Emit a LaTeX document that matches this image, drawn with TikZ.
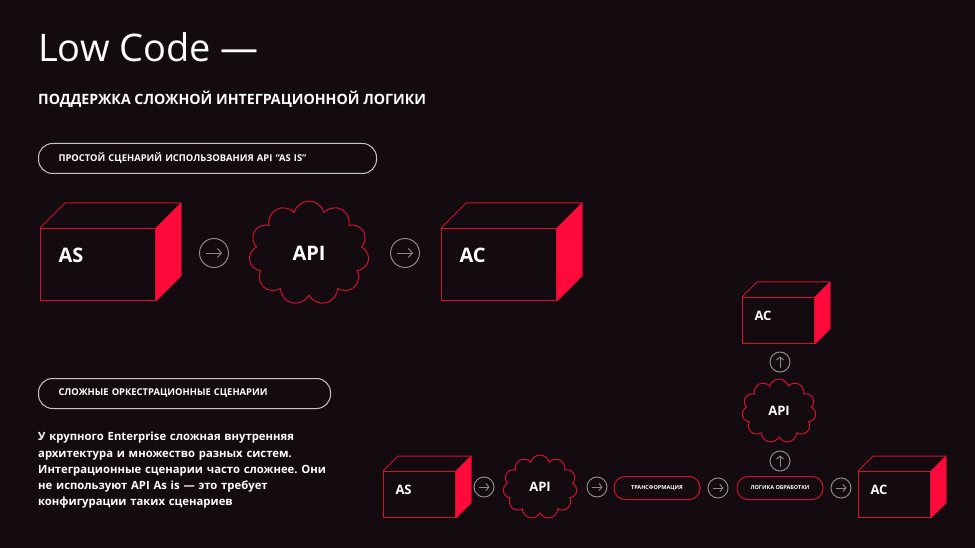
\documentclass[tikz,border=0pt]{standalone}
\usepackage{fontspec}
\setmainfont{Open Sans}
\usetikzlibrary{positioning,shapes.symbols,arrows.meta}
\definecolor{bg}{HTML}{130B10}
\definecolor{boxred}{HTML}{D01230}
\definecolor{facered}{HTML}{FF0A3A}
\definecolor{btngray}{HTML}{8A8A8A}
\definecolor{pillgray}{HTML}{C4C4C4}
\frenchspacing

\begin{document}
\begin{tikzpicture}
[x=1pt, y=-1pt, every node/.style={text=white},
boxbig/.style={draw=boxred, line width=1pt, fill=bg, anchor=north west, minimum height=72pt, text width=79pt, text depth=18pt, inner xsep=18pt, align=left, font=\bfseries\fontsize{20}{24}\selectfont},
boxsmall/.style={draw=boxred, line width=1pt, fill=bg, anchor=north west, minimum height=46pt, text width=48pt, text depth=9pt, inner xsep=12pt, align=left, font=\bfseries\fontsize{13}{16}\selectfont},
apicloud/.style={cloud, cloud puffs=11, cloud ignores aspect, draw=boxred, line width=1pt},
pill/.style={draw=pillgray, line width=1pt, rounded corners=14pt, anchor=north west, minimum height=30pt, inner xsep=20pt, align=left, font=\bfseries\fontsize{9.4}{11}\selectfont},
steppill/.style={draw=boxred, line width=1pt, rounded corners=11pt, minimum width=86pt, minimum height=23pt, inner sep=0pt, font=\bfseries\fontsize{5.5}{7}\selectfont},
nextbig/.style={circle, draw=btngray, line width=1pt, minimum size=29pt, inner sep=0pt,
  path picture={\draw[btngray, line width=0.9pt, -{Straight Barb[length=4pt,width=9pt]}] ([xshift=-8pt]path picture bounding box.center) -- ([xshift=8pt]path picture bounding box.center);}},
nextsmall/.style={circle, draw=btngray, line width=1pt, minimum size=20pt, inner sep=0pt,
  path picture={\draw[btngray, line width=0.9pt, -{Straight Barb[length=3pt,width=7pt]}] ([xshift=-5.5pt]path picture bounding box.center) -- ([xshift=5.5pt]path picture bounding box.center);}},
upsmall/.style={circle, draw=btngray, line width=1pt, minimum size=20pt, inner sep=0pt,
  path picture={\draw[btngray, line width=0.9pt, -{Straight Barb[length=3pt,width=7pt]}] ([yshift=-5.5pt]path picture bounding box.center) -- ([yshift=5.5pt]path picture bounding box.center);}}
]

\useasboundingbox[fill=bg] (0,0) rectangle (975,548);

% header
\node[anchor=base west, inner sep=0pt, font=\fontsize{38}{46}\selectfont] (title) at (38,62) {Low Code —};
\node[anchor=base west, inner sep=0pt, font=\bfseries\fontsize{14.2}{17}\selectfont] (subtitle) at (38,105) {ПОДДЕРЖКА СЛОЖНОЙ ИНТЕГРАЦИОННОЙ ЛОГИКИ};

% simple scenario
\node[pill, text width=298pt] (simple) at (38,143) {ПРОСТОЙ СЦЕНАРИЙ ИСПОЛЬЗОВАНИЯ API “AS IS”};

\node[boxbig] (as1) at (40,228) {AS};
\node[nextbig] (n1) at (214,253) {};
\node[apicloud, minimum width=120pt, minimum height=104pt, font=\bfseries\fontsize{20}{24}\selectfont] (api1) at (309,253) {API};
\node[nextbig] (n2) at (405,253) {};
\node[boxbig] (ac1) at (441,228) {AC};

% orchestration
\node[pill, text width=252pt] (orch) at (38,378) {СЛОЖНЫЕ ОРКЕСТРАЦИОННЫЕ СЦЕНАРИИ};

\node[anchor=north west, inner sep=0pt, text width=300pt, align=left, font=\bfseries\fontsize{11.3}{16.3}\selectfont] (descr) at (38,432)
{У крупного Enterprise сложная внутренняя\\
архитектура и множество разных систем.\\
Интеграционные сценарии часто сложнее. Они\\
не используют API As is — это требует\\
конфигурации таких сценариев};

\node[boxsmall] (as2) at (383,471) {AS};
\node[nextsmall] (n3) at (484,487) {};
\node[apicloud, minimum width=74pt, minimum height=64pt, font=\bfseries\fontsize{13}{16}\selectfont] (api2) at (540,487) {API};
\node[nextsmall] (n4) at (597,487) {};
\node[steppill] (transf) at (657,488) {ТРАНСФОРМАЦИЯ};
\node[nextsmall] (n5) at (718,488) {};
\node[steppill] (logic) at (780,488) {ЛОГИКА ОБРАБОТКИ};
\node[nextsmall] (n6) at (841,488) {};
\node[boxsmall] (ac2) at (858,471) {AC};

\node[upsmall] (u1) at (780,461) {};
\node[apicloud, minimum width=74pt, minimum height=64pt, font=\bfseries\fontsize{13}{16}\selectfont] (api3) at (779,411) {API};
\node[upsmall] (u2) at (780,362) {};
\node[boxsmall] (ac3) at (742,297) {AC};

% box depth
\foreach \b/\d in {as1/25, ac1/25, as2/15, ac2/15, ac3/15}{
  \fill[facered] (\b.north east) -- ([shift={(\d,-\d)}]\b.north east) -- ([shift={(\d,-\d)}]\b.south east) -- (\b.south east) -- cycle;
  \draw[boxred, line width=1pt, line join=round] (\b.north west) -- ([shift={(\d,-\d)}]\b.north west) -- ([shift={(\d,-\d)}]\b.north east) -- ([shift={(\d,-\d)}]\b.south east) -- (\b.south east);
  \draw[boxred, line width=1pt] (\b.north east) -- ([shift={(\d,-\d)}]\b.north east);
}
\end{tikzpicture}
\end{document}
